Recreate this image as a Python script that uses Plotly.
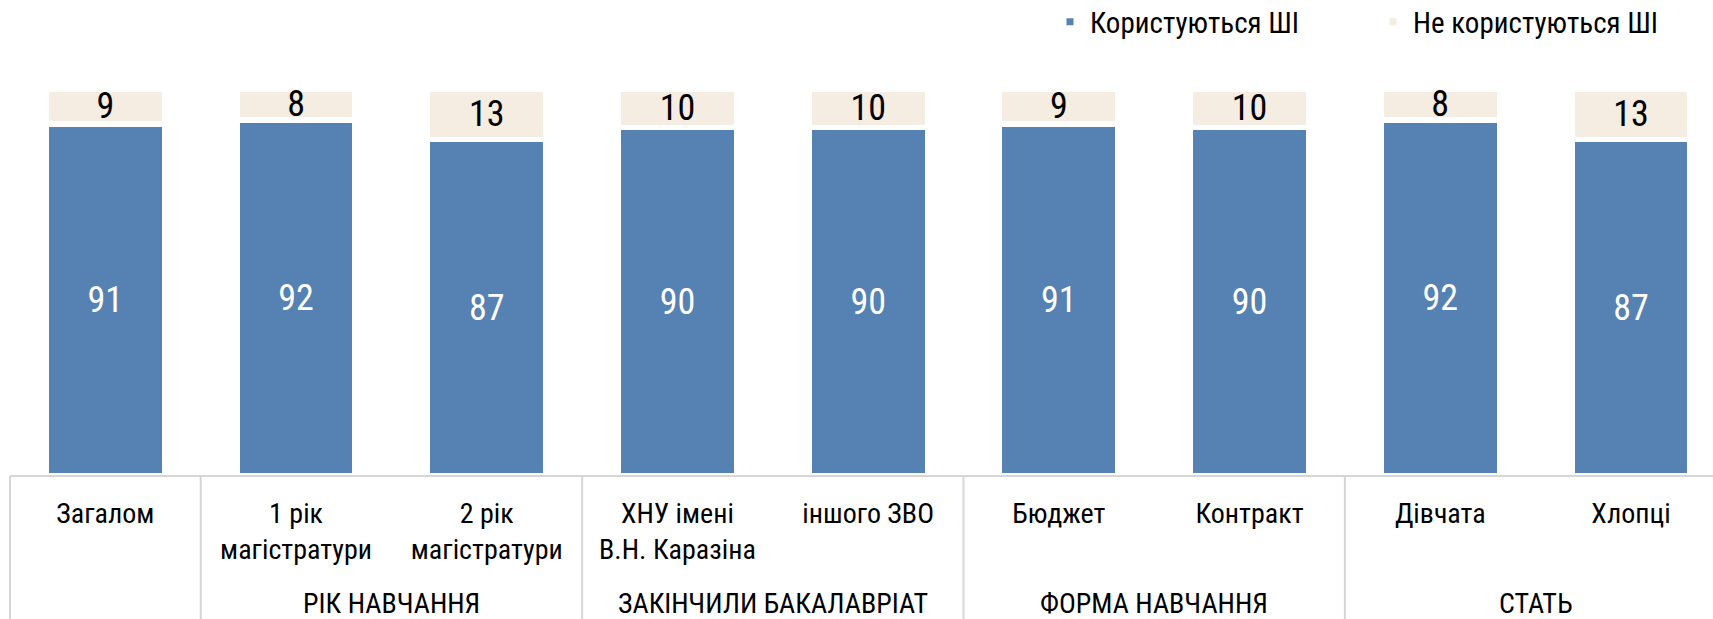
import plotly.graph_objects as go

# ---- data ----
categories = ["Загалом", "1 рік<br>магістратури", "2 рік<br>магістратури",
              "ХНУ імені<br>В.Н. Каразіна", "іншого ЗВО", "Бюджет", "Контракт",
              "Дівчата", "Хлопці"]
users = [91, 92, 87, 90, 90, 91, 90, 92, 87]
nonusers = [9, 8, 13, 10, 10, 9, 10, 8, 13]
group_names = ["", "РІК НАВЧАННЯ", "ЗАКІНЧИЛИ БАКАЛАВРІАТ", "ФОРМА НАВЧАННЯ", "СТАТЬ"]
group_sizes = [1, 2, 2, 2, 2]
series_names = ["Користуються ШІ", "Не користуються ШІ"]

# ---- style ----
FONT = "Roboto Condensed, Liberation Sans Narrow, Roboto, sans-serif"
BLUE = "#5582B2"
BEIGE = "#F5ECE2"
GRID = "#D6D6D6"

W, H = 1713, 619
ML, MR, MT, MB = 10, 0, 60, 143
plot_w = W - ML - MR
plot_h = H - MT - MB
px_per_cat = 190.7
xmin = -0.5
xmax = xmin + plot_w / px_per_cat
ymax = plot_h / 3.87

x = list(range(len(categories)))

fig = go.Figure()
fig.add_trace(go.Bar(
    x=x, y=users, name=series_names[0],
    marker=dict(color=BLUE, line=dict(color="white", width=5.5)),
    text=[str(v) for v in users], textposition="inside", insidetextanchor="middle",
    textangle=0, constraintext="none",
    textfont=dict(family=FONT, size=36, color="white"),
))
fig.add_trace(go.Bar(
    x=x, y=nonusers, name=series_names[1],
    marker=dict(color=BEIGE, line=dict(color="white", width=5.5)),
    text=[str(v) for v in nonusers], textposition="inside", insidetextanchor="middle",
    textangle=0, constraintext="none",
    textfont=dict(family=FONT, size=36, color="black"),
))

def xpaper(v):
    return (v - xmin) / (xmax - xmin)

shapes = []
# horizontal axis line
shapes.append(dict(type="line", xref="paper", yref="paper", x0=0, x1=1, y0=0, y1=0,
                   line=dict(color=GRID, width=2)))
# vertical separators between groups
annotations = []
start = 0
for name, size in zip(group_names, group_sizes):
    left = start - 0.5
    shapes.append(dict(type="line", xref="paper", yref="paper",
                       x0=xpaper(left), x1=xpaper(left), y0=0, y1=-0.6,
                       line=dict(color=GRID, width=2)))
    if name:
        center = start + (size - 1) / 2
        annotations.append(dict(text=name, xref="x", yref="paper", x=center,
                                y=-(603 - (H - MB)) / plot_h, yanchor="middle",
                                showarrow=False,
                                font=dict(family=FONT, size=28, color="black")))
    start += size

fig.update_layout(
    width=W, height=H,
    margin=dict(l=ML, r=MR, t=MT, b=MB, autoexpand=False),
    barmode="stack", bargap=0.38,
    plot_bgcolor="white", paper_bgcolor="white",
    font=dict(family=FONT, size=28, color="black"),
    xaxis=dict(range=[xmin, xmax], tickvals=x, ticktext=categories,
               showgrid=False, zeroline=False, showline=False, automargin=False,
               ticks="outside", ticklen=12, tickcolor="rgba(0,0,0,0)",
               tickfont=dict(family=FONT, size=28, color="black")),
    yaxis=dict(range=[0, ymax], visible=False),
    legend=dict(orientation="h", x=(1050 - ML) / plot_w, y=(H - MB - 22) / plot_h,
                xanchor="left", yanchor="middle", traceorder="normal",
                font=dict(family=FONT, size=29, color="black"),
                itemwidth=30, entrywidth=278),
    shapes=shapes,
    annotations=annotations,
    showlegend=True,
)

fig.write_html("out.html", config={"displayModeBar": False},
               post_script="document.body.style.margin='0';document.body.style.padding='0';")
